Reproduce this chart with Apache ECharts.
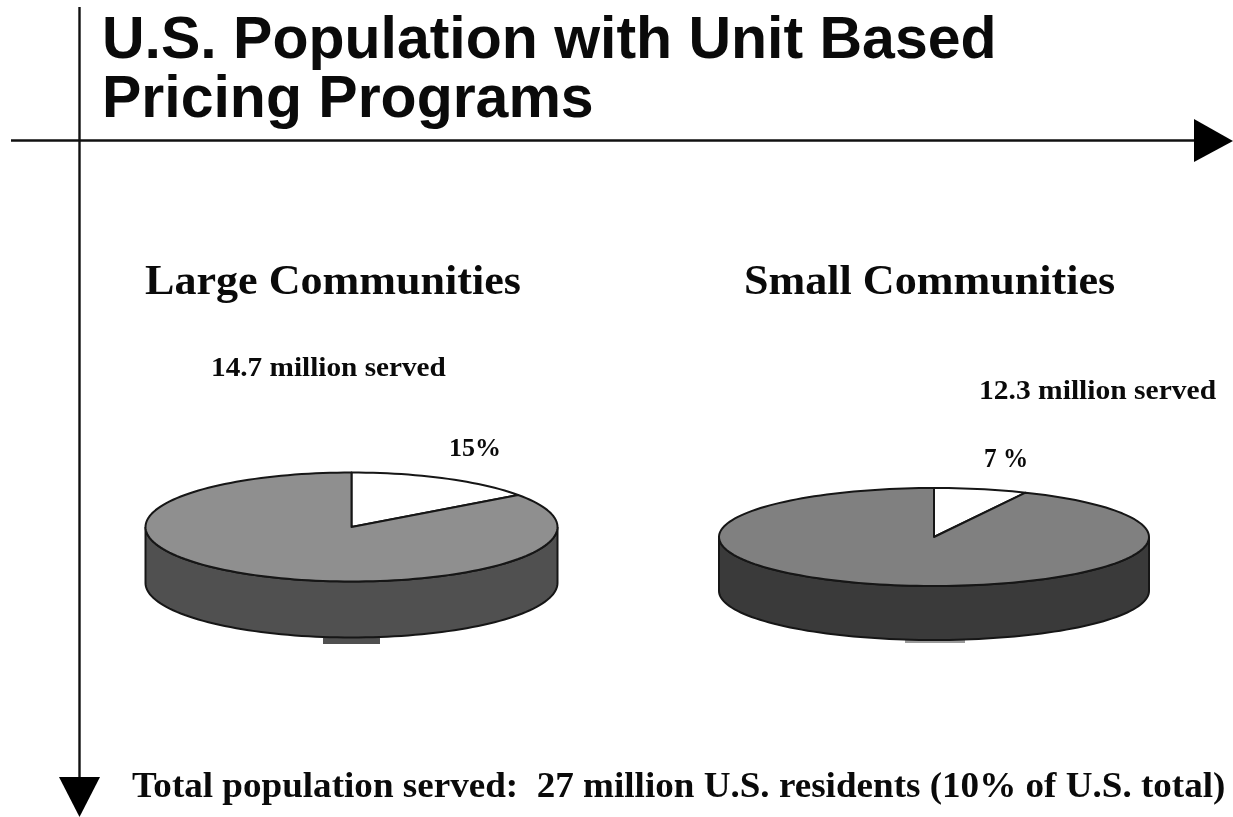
<!DOCTYPE html>
<html>
<head>
<meta charset="utf-8">
<style>html,body{margin:0;padding:0;background:#fff}#chart{width:1233px;height:817px}</style>
<script src="https://cdn.jsdelivr.net/npm/echarts@6/dist/echarts.min.js"></script>
</head>
<body>
<div id="chart"></div>
<script>
// Share of residents in communities with unit based pricing, in percent
const sliceNames = ['With unit based pricing', 'Without unit based pricing'];
const largeValues = [15, 85];
const smallValues = [7, 93];

const titleLines = ['U.S. Population with Unit Based', 'Pricing Programs'];
const groupNames = ['Large Communities', 'Small Communities'];
const servedLabels = ['14.7 million served', '12.3 million served'];
const totalLine = 'Total population served:  27 million U.S. residents (10% of U.S. total)';

const SERIF = '"Liberation Serif", serif';
const SANS = '"Liberation Sans", sans-serif';
const OUTLINE = '#161616';

// Tilted disc with a visible wall: slices run clockwise from twelve o'clock.
function tiltedPie(name, values, disc, topColors, wallColors) {
  const total = values.reduce((a, b) => a + b, 0);
  const at = (deg, dy) => {
    const r = deg * Math.PI / 180;
    return [disc.cx + disc.rx * Math.sin(r), disc.cy - disc.ry * Math.cos(r) + (dy || 0)];
  };
  const arc = (from, to, dy) => {
    const pts = [];
    const n = Math.max(2, Math.ceil((to - from) / 2));
    for (let i = 0; i <= n; i++) pts.push(at(from + (to - from) * i / n, dy));
    return pts;
  };
  return {
    type: 'custom',
    name,
    coordinateSystem: 'none',
    silent: true,
    data: values.map((v, i) => ({ name: sliceNames[i], value: [v] })),
    renderItem(params, api) {
      const i = params.dataIndex;
      const before = values.slice(0, i).reduce((a, b) => a + b, 0);
      const start = before / total * 360;
      const end = start + api.value(0) / total * 360;
      const children = [];
      const wallFrom = Math.max(start, 90), wallTo = Math.min(end, 270);
      if (wallTo > wallFrom) {
        // Small tab left under the wall by the slide's drawing tool
        children.push({
          type: 'rect',
          shape: disc.foot,
          style: { fill: disc.footColor }
        });
        const wall = arc(wallFrom, wallTo, 0).concat(arc(wallFrom, wallTo, disc.depth).reverse());
        children.push({
          type: 'polygon',
          shape: { points: wall },
          style: { fill: wallColors[i], stroke: OUTLINE, lineWidth: 2 }
        });
      }
      children.push({
        type: 'polygon',
        shape: { points: [[disc.cx, disc.cy]].concat(arc(start, end, 0)) },
        style: { fill: topColors[i], stroke: OUTLINE, lineWidth: 2, lineJoin: 'round' }
      });
      return { type: 'group', children };
    }
  };
}

// Text placed by its baseline; stretch widens it to the slide's spaced-out setting
const caption = (text, x, baseline, size, stretch, family) => ({
  type: 'text',
  x,
  y: baseline,
  scaleX: stretch || 1,
  silent: true,
  style: {
    text,
    fill: '#0a0a0a',
    font: 'bold ' + size + 'px ' + (family || SERIF),
    verticalAlign: 'bottom',
    y: Math.round(size * 0.22)
  }
});

const option = {
  animation: false,
  backgroundColor: '#ffffff',
  series: [
    tiltedPie('Large Communities', largeValues,
      { cx: 351.5, cy: 527, rx: 206, ry: 54.5, depth: 56,
        foot: { x: 323, y: 636, width: 57, height: 8 }, footColor: '#505050' },
      ['#ffffff', '#8f8f8f'], ['#ffffff', '#505050']),
    tiltedPie('Small Communities', smallValues,
      { cx: 934, cy: 537, rx: 215, ry: 49, depth: 54,
        foot: { x: 905, y: 636, width: 60, height: 7 }, footColor: '#9a9a9a' },
      ['#ffffff', '#808080'], ['#ffffff', '#3a3a3a'])
  ],
  // Cross-shaped frame with arrow heads, then the slide's text
  graphic: [
    { type: 'line', shape: { x1: 11, y1: 140.5, x2: 1196, y2: 140.5 }, style: { stroke: '#111', lineWidth: 2.4 } },
    { type: 'line', shape: { x1: 79.5, y1: 7, x2: 79.5, y2: 780 }, style: { stroke: '#111', lineWidth: 2.4 } },
    { type: 'polygon', shape: { points: [[1194, 119], [1233, 141], [1194, 162]] }, style: { fill: '#000' } },
    { type: 'polygon', shape: { points: [[59, 777], [100, 777], [79.5, 817]] }, style: { fill: '#000' } },
    caption(titleLines[0], 102, 58, 60, 0.983, SANS),
    caption(titleLines[1], 102, 117, 60, 0.983, SANS),
    caption(groupNames[0], 145, 295, 42, 1.05),
    caption(groupNames[1], 744, 295, 42, 1.05),
    caption(servedLabels[0], 211, 377, 28, 1.045),
    caption(servedLabels[1], 979, 400, 28, 1.055),
    caption(largeValues[0] + '%', 449, 456, 26),
    caption(smallValues[0] + ' %', 984, 468, 28, 0.9),
    caption(totalLine, 132, 798, 35.5, 1.045)
  ]
};

echarts.init(document.getElementById('chart'), null, { renderer: 'canvas' }).setOption(option);
</script>
</body>
</html>
